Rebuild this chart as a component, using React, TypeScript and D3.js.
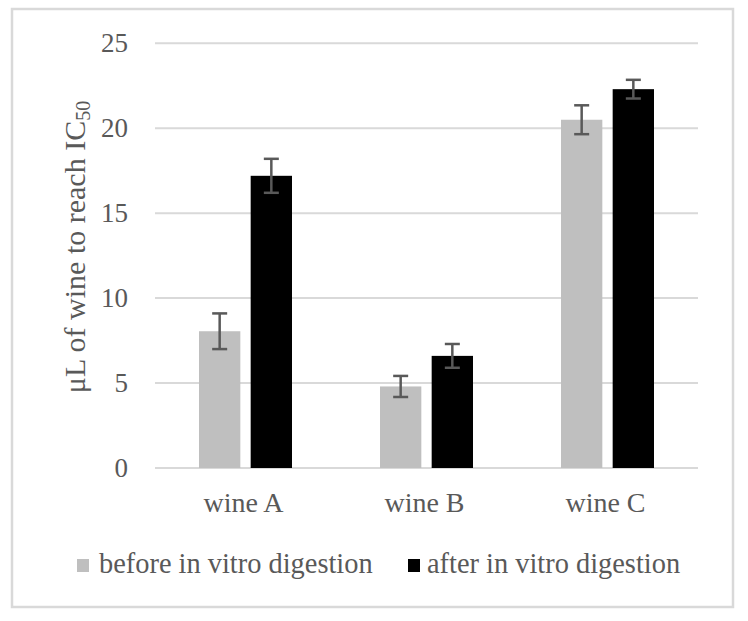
import React from "react";
import * as d3 from "d3";

const categories = ["wine A", "wine B", "wine C"];
const seriesNames = ["before in vitro digestion", "after in vitro digestion"];
const seriesColors = ["#bfbfbf", "#000000"];
const beforeValues = [8.05, 4.8, 20.5];
const beforeErrors = [1.05, 0.62, 0.85];
const afterValues = [17.2, 6.6, 22.3];
const afterErrors = [1.0, 0.7, 0.55];
const yTicks = [0, 5, 10, 15, 20, 25];

export default function App() {
  const W = 748, H = 621;
  const left = 155, right = 698, top = 43.3, bottom = 468;
  const y = d3.scaleLinear().domain([0, 25]).range([bottom, top]);
  const x0 = d3.scaleBand().domain(categories).range([left, right]);
  const groupW = 93;
  const x1 = d3.scaleBand().domain(["0", "1"]).range([0, groupW]).paddingInner(0.2);
  const series = [
    { vals: beforeValues, errs: beforeErrors },
    { vals: afterValues, errs: afterErrors },
  ];
  const font = "'Liberation Serif', 'Times New Roman', serif";
  const txt = "#595959";
  return (
    <svg width={W} height={H} style={{ position: "absolute", left: 0, top: 0 }}>
      <rect x={0} y={0} width={W} height={H} fill="#fff" />
      <rect x={12} y={9} width={721} height={598} fill="#fff" stroke="#d9d9d9" strokeWidth={2.5} />
      {yTicks.map((t) => (
        <g key={t}>
          <line x1={left} x2={right} y1={y(t)} y2={y(t)} stroke="#d9d9d9" strokeWidth={2} />
          <text x={128} y={y(t)} dy="0.33em" textAnchor="end" fontFamily={font} fontSize={27} fill={txt}>
            {t}
          </text>
        </g>
      ))}
      {categories.map((c, i) => {
        const center = (x0(c) as number) + x0.bandwidth() / 2;
        const g0 = center - groupW / 2;
        return (
          <g key={c}>
            {series.map((s, j) => {
              const bx = g0 + (x1(String(j)) as number);
              const bw = x1.bandwidth();
              const cx = bx + bw / 2;
              const hi = y(s.vals[i] + s.errs[i]);
              const lo = y(s.vals[i] - s.errs[i]);
              return (
                <g key={j}>
                  <rect x={bx} y={y(s.vals[i])} width={bw} height={bottom - y(s.vals[i])} fill={seriesColors[j]} />
                  <line x1={cx} x2={cx} y1={hi} y2={lo} stroke="#595959" strokeWidth={2.5} />
                  <line x1={cx - 7.5} x2={cx + 7.5} y1={hi} y2={hi} stroke="#595959" strokeWidth={2.5} />
                  <line x1={cx - 7.5} x2={cx + 7.5} y1={lo} y2={lo} stroke="#595959" strokeWidth={2.5} />
                </g>
              );
            })}
            <text x={center - 2} y={512} textAnchor="middle" fontFamily={font} fontSize={28} fill={txt}>
              {c}
            </text>
          </g>
        );
      })}
      <text transform={`translate(85,247) rotate(-90)`} textAnchor="middle" fontFamily={font} fontSize={30} fill={txt}>
        μL of wine to reach IC<tspan fontSize={20} dy={5}>50</tspan>
      </text>
      <g>
        <rect x={77} y={559} width={12} height={13} fill={seriesColors[0]} />
        <text x={99} y={573} fontFamily={font} fontSize={28.4} fill={txt}>{seriesNames[0]}</text>
        <rect x={408} y={559} width={12} height={13} fill={seriesColors[1]} />
        <text x={427} y={573} fontFamily={font} fontSize={28.4} fill={txt}>{seriesNames[1]}</text>
      </g>
    </svg>
  );
}
